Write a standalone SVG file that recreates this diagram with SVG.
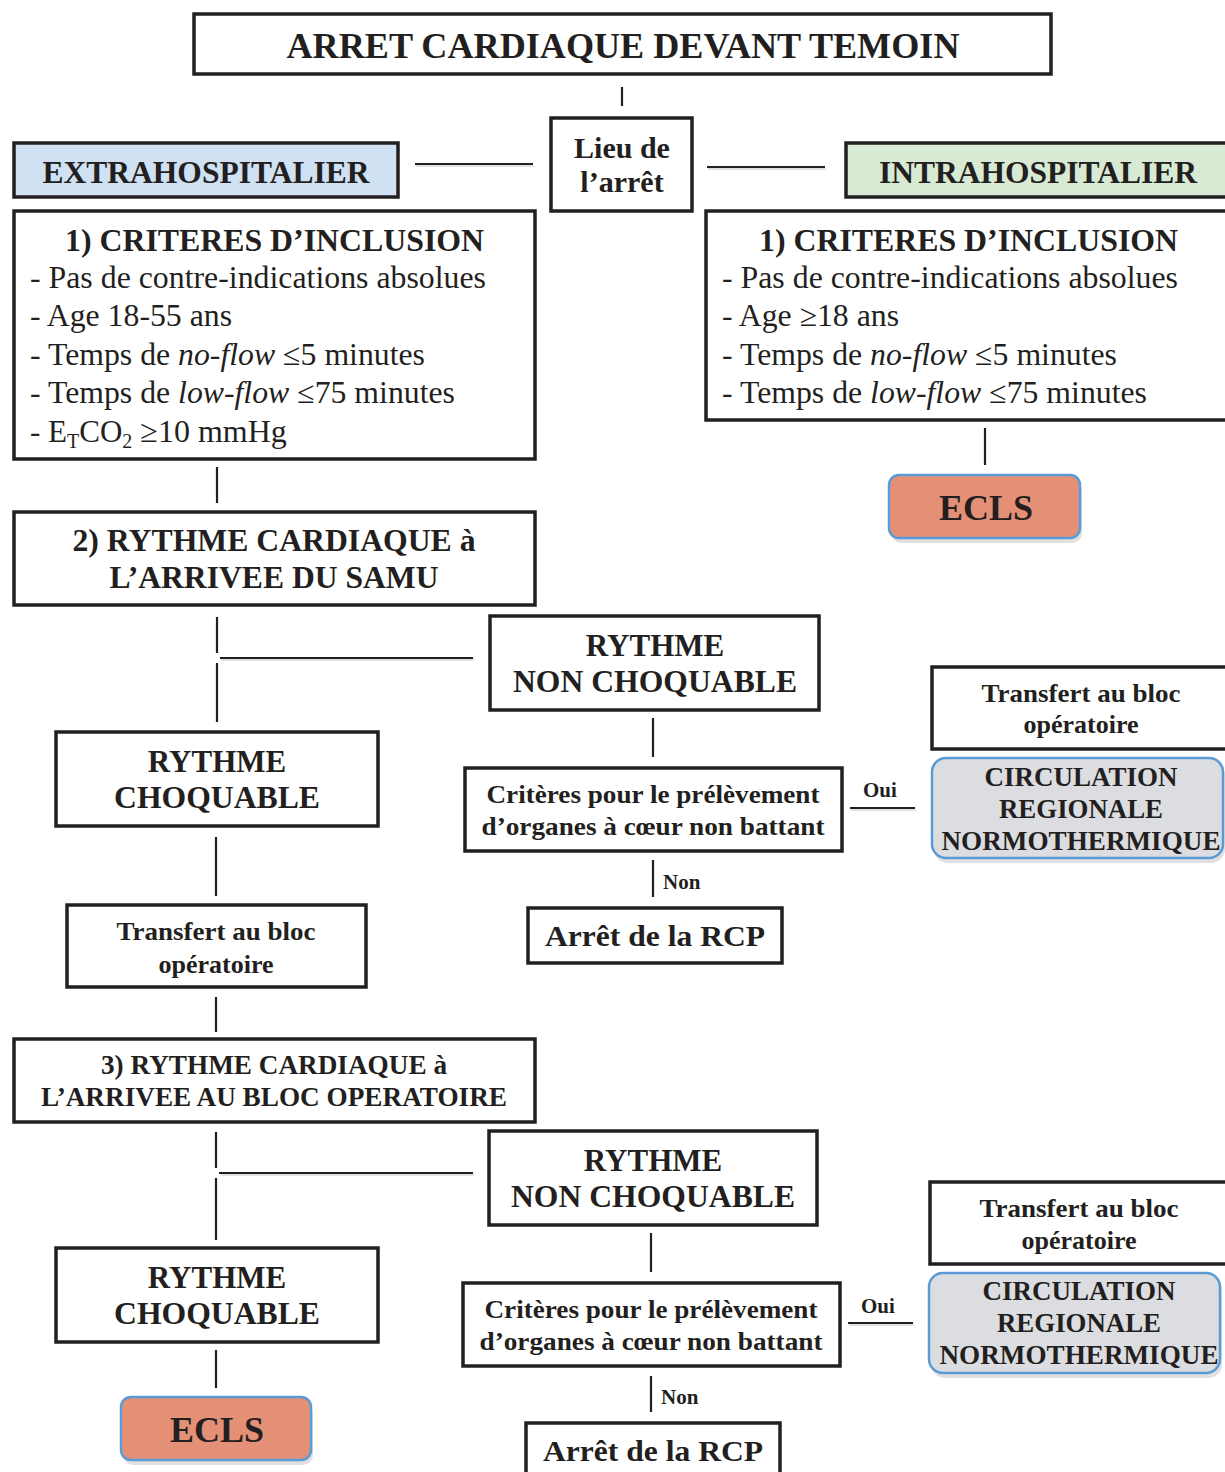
<svg xmlns="http://www.w3.org/2000/svg" width="1225" height="1472" viewBox="0 0 1225 1472">
<style>
text{font-family:"Liberation Serif","Times New Roman",serif;fill:#231f20;}
.b{font-weight:bold;}
.c{text-anchor:middle;}
.box{fill:#fff;stroke:#231f20;stroke-width:3.5;}
.blue{fill:#cfe1f2;stroke:#231f20;stroke-width:3.5;}
.green{fill:#d8ead3;stroke:#231f20;stroke-width:3.5;}
.ecls{fill:#e49077;stroke:#5b9bd5;stroke-width:2.5;}
.crn{fill:#dcdde0;stroke:#5b9bd5;stroke-width:2.5;}
.sh{fill:#000;opacity:0.12;}
.ln{stroke:#231f20;stroke-width:2.2;fill:none;}
.lsh{stroke:#e2e2e2;stroke-width:2;fill:none;}
</style>
<rect width="1225" height="1472" fill="#fff"/>
<g id="connectors">
<g class="lsh">
<path d="M416 166H534M708 169H826M851 810H916M849 1325H914M221 660H474M221 1175H474"/>
</g>
<g class="ln">
<path d="M622 87V106"/>
<path d="M415 164H533"/>
<path d="M707 167H825"/>
<path d="M985 428V465"/>
<path d="M217 467V503"/>
<path d="M217 617V653M217 663V722M220 658H473"/>
<path d="M216 837V896"/>
<path d="M216 997V1032"/>
<path d="M653 718V757"/>
<path d="M850 808H915"/>
<path d="M653 860V897"/>
<path d="M216 1132V1168M216 1178V1240M219 1173H473"/>
<path d="M216 1350V1388"/>
<path d="M651 1233V1272"/>
<path d="M848 1323H913"/>
<path d="M651 1376V1412"/>
</g>
<text class="b" x="863" y="797" font-size="21">Oui</text>
<text class="b" x="663" y="889" font-size="21">Non</text>
<text class="b" x="861" y="1313" font-size="21">Oui</text>
<text class="b" x="661" y="1404" font-size="21">Non</text>
</g>
<g id="title">
<rect class="box" x="194" y="14" width="857" height="60"/>
<text class="b c" x="623" y="58" font-size="36" textLength="673" lengthAdjust="spacingAndGlyphs">ARRET CARDIAQUE DEVANT TEMOIN</text>
</g>
<g id="lieu">
<rect class="box" x="551" y="118" width="141" height="93"/>
<text class="b c" x="622" y="158" font-size="30">Lieu de</text>
<text class="b c" x="622" y="192" font-size="30">l’arrêt</text>
</g>
<g id="extra">
<rect class="blue" x="14" y="143" width="384" height="54"/>
<text class="b c" x="206" y="183" font-size="31" textLength="327" lengthAdjust="spacingAndGlyphs">EXTRAHOSPITALIER</text>
</g>
<g id="intra">
<rect class="green" x="846" y="143" width="400" height="54"/>
<text class="b c" x="1038" y="183" font-size="31" textLength="318" lengthAdjust="spacingAndGlyphs">INTRAHOSPITALIER</text>
</g>
<g id="crit-left">
<rect class="box" x="14" y="211" width="521" height="248"/>
<text class="b" x="65" y="251" font-size="32" textLength="419" lengthAdjust="spacingAndGlyphs">1) CRITERES D’INCLUSION</text>
<text x="30" y="288" font-size="31" textLength="456" lengthAdjust="spacingAndGlyphs">- Pas de contre-indications absolues</text>
<text x="30" y="326" font-size="31" textLength="202" lengthAdjust="spacingAndGlyphs">- Age 18-55 ans</text>
<text x="30" y="365" font-size="31" textLength="395" lengthAdjust="spacingAndGlyphs">- Temps de <tspan font-style="italic">no-flow</tspan> ≤5 minutes</text>
<text x="30" y="403" font-size="31" textLength="425" lengthAdjust="spacingAndGlyphs">- Temps de <tspan font-style="italic">low-flow</tspan> ≤75 minutes</text>
<text x="30" y="442" font-size="31">- E<tspan font-size="20" dy="6">T</tspan><tspan dy="-6">CO</tspan><tspan font-size="20" dy="6">2</tspan><tspan dy="-6" font-size="32"> ≥10 mmHg</tspan></text>
</g>
<g id="crit-right">
<rect class="box" x="706" y="211" width="540" height="209"/>
<text class="b" x="759" y="251" font-size="32" textLength="419" lengthAdjust="spacingAndGlyphs">1) CRITERES D’INCLUSION</text>
<text x="722" y="288" font-size="31" textLength="456" lengthAdjust="spacingAndGlyphs">- Pas de contre-indications absolues</text>
<text x="722" y="326" font-size="31" textLength="177" lengthAdjust="spacingAndGlyphs">- Age ≥18 ans</text>
<text x="722" y="365" font-size="31" textLength="395" lengthAdjust="spacingAndGlyphs">- Temps de <tspan font-style="italic">no-flow</tspan> ≤5 minutes</text>
<text x="722" y="403" font-size="31" textLength="425" lengthAdjust="spacingAndGlyphs">- Temps de <tspan font-style="italic">low-flow</tspan> ≤75 minutes</text>
</g>
<g id="ecls-top">
<rect class="sh" x="891" y="480" width="191" height="63" rx="10"/>
<rect class="ecls" x="889" y="475" width="191" height="63" rx="10"/>
<text class="b c" x="986" y="520" font-size="36">ECLS</text>
</g>
<g id="rythme-samu">
<rect class="box" x="14" y="512" width="521" height="93"/>
<text class="b c" x="274" y="551" font-size="31" textLength="403" lengthAdjust="spacingAndGlyphs">2) RYTHME CARDIAQUE à</text>
<text class="b c" x="274" y="588" font-size="31" textLength="329" lengthAdjust="spacingAndGlyphs">L’ARRIVEE DU SAMU</text>
</g>
<g id="nonchoq1">
<rect class="box" x="490" y="616" width="329" height="94"/>
<text class="b c" x="655" y="656" font-size="31">RYTHME</text>
<text class="b c" x="655" y="692" font-size="31" textLength="284" lengthAdjust="spacingAndGlyphs">NON CHOQUABLE</text>
</g>
<g id="choq1">
<rect class="box" x="56" y="732" width="322" height="94"/>
<text class="b c" x="217" y="772" font-size="31">RYTHME</text>
<text class="b c" x="217" y="808" font-size="31" textLength="206" lengthAdjust="spacingAndGlyphs">CHOQUABLE</text>
</g>
<g id="transfert-left">
<rect class="box" x="67" y="905" width="299" height="82"/>
<text class="b c" x="216" y="940" font-size="26" textLength="199" lengthAdjust="spacingAndGlyphs">Transfert au bloc</text>
<text class="b c" x="216" y="973" font-size="26">opératoire</text>
</g>
<g id="crit-prel1">
<rect class="box" x="465" y="768" width="377" height="83"/>
<text class="b c" x="653" y="803" font-size="25" textLength="333" lengthAdjust="spacingAndGlyphs">Critères pour le prélèvement</text>
<text class="b c" x="653" y="835" font-size="25" textLength="343" lengthAdjust="spacingAndGlyphs">d’organes à cœur non battant</text>
</g>
<g id="transfert-right1">
<rect class="box" x="932" y="667" width="310" height="82"/>
<text class="b c" x="1081" y="702" font-size="26" textLength="199" lengthAdjust="spacingAndGlyphs">Transfert au bloc</text>
<text class="b c" x="1081" y="733" font-size="26">opératoire</text>
</g>
<g id="crn1">
<rect class="sh" x="934" y="762" width="291" height="101" rx="14"/>
<rect class="crn" x="932" y="758" width="291" height="100" rx="14"/>
<text class="b c" x="1081" y="786" font-size="27" textLength="193" lengthAdjust="spacingAndGlyphs">CIRCULATION</text>
<text class="b c" x="1081" y="818" font-size="27" textLength="164" lengthAdjust="spacingAndGlyphs">REGIONALE</text>
<text class="b c" x="1081" y="850" font-size="27" textLength="279" lengthAdjust="spacingAndGlyphs">NORMOTHERMIQUE</text>
</g>
<g id="arret1">
<rect class="box" x="528" y="908" width="254" height="55"/>
<text class="b c" x="655" y="946" font-size="29" textLength="220" lengthAdjust="spacingAndGlyphs">Arrêt de la RCP</text>
</g>
<g id="rythme-bloc">
<rect class="box" x="14" y="1039" width="521" height="83"/>
<text class="b c" x="274" y="1074" font-size="27" textLength="346" lengthAdjust="spacingAndGlyphs">3) RYTHME CARDIAQUE à</text>
<text class="b c" x="274" y="1106" font-size="27" textLength="466" lengthAdjust="spacingAndGlyphs">L’ARRIVEE AU BLOC OPERATOIRE</text>
</g>
<g id="nonchoq2">
<rect class="box" x="489" y="1131" width="328" height="94"/>
<text class="b c" x="653" y="1171" font-size="31">RYTHME</text>
<text class="b c" x="653" y="1207" font-size="31" textLength="284" lengthAdjust="spacingAndGlyphs">NON CHOQUABLE</text>
</g>
<g id="choq2">
<rect class="box" x="56" y="1248" width="322" height="94"/>
<text class="b c" x="217" y="1288" font-size="31">RYTHME</text>
<text class="b c" x="217" y="1324" font-size="31" textLength="206" lengthAdjust="spacingAndGlyphs">CHOQUABLE</text>
</g>
<g id="ecls-bottom">
<rect class="sh" x="123" y="1402" width="190" height="63" rx="10"/>
<rect class="ecls" x="121" y="1397" width="190" height="63" rx="10"/>
<text class="b c" x="217" y="1442" font-size="36">ECLS</text>
</g>
<g id="crit-prel2">
<rect class="box" x="463" y="1283" width="377" height="83"/>
<text class="b c" x="651" y="1318" font-size="25" textLength="333" lengthAdjust="spacingAndGlyphs">Critères pour le prélèvement</text>
<text class="b c" x="651" y="1350" font-size="25" textLength="343" lengthAdjust="spacingAndGlyphs">d’organes à cœur non battant</text>
</g>
<g id="transfert-right2">
<rect class="box" x="930" y="1182" width="310" height="82"/>
<text class="b c" x="1079" y="1217" font-size="26" textLength="199" lengthAdjust="spacingAndGlyphs">Transfert au bloc</text>
<text class="b c" x="1079" y="1249" font-size="26">opératoire</text>
</g>
<g id="crn2">
<rect class="sh" x="931" y="1277" width="291" height="101" rx="14"/>
<rect class="crn" x="929" y="1273" width="291" height="100" rx="14"/>
<text class="b c" x="1079" y="1300" font-size="27" textLength="193" lengthAdjust="spacingAndGlyphs">CIRCULATION</text>
<text class="b c" x="1079" y="1332" font-size="27" textLength="164" lengthAdjust="spacingAndGlyphs">REGIONALE</text>
<text class="b c" x="1079" y="1364" font-size="27" textLength="279" lengthAdjust="spacingAndGlyphs">NORMOTHERMIQUE</text>
</g>
<g id="arret2">
<rect class="box" x="526" y="1423" width="254" height="60"/>
<text class="b c" x="653" y="1461" font-size="29" textLength="220" lengthAdjust="spacingAndGlyphs">Arrêt de la RCP</text>
</g>
</svg>
